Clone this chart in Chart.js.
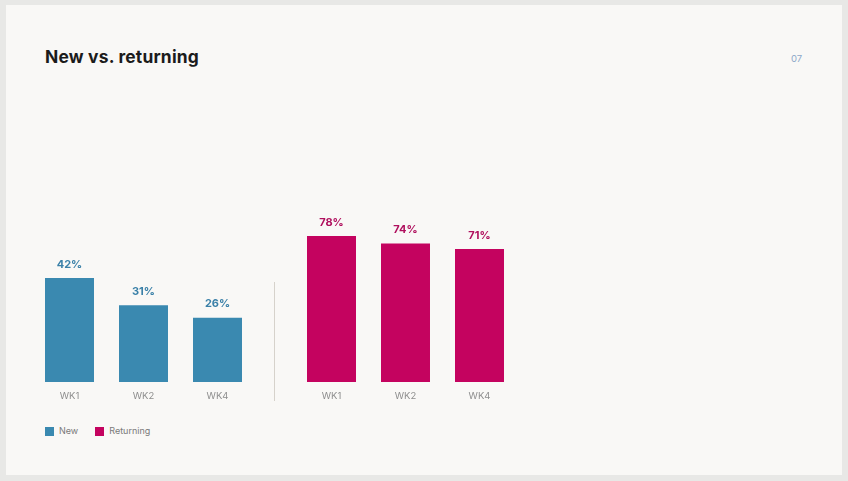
<!DOCTYPE html>
<html>
<head>
<meta charset="utf-8">
<script src="https://cdn.jsdelivr.net/npm/chart.js@4.4.1/dist/chart.umd.min.js"></script>
<style>
  html,body{margin:0;padding:0;background:#e8e8e6;width:848px;height:481px;overflow:hidden;font-family:Inter,"Noto Sans",sans-serif;}
  #card{position:absolute;left:6px;top:5px;width:836px;height:470px;background:#f9f8f6;}
  #title{position:absolute;left:45px;top:46px;font-size:17.4px;font-weight:700;color:#1b1b1b;letter-spacing:0.2px;line-height:22px;margin:0;}
  #page{position:absolute;left:791px;top:53px;font-size:9.5px;color:#8ea8c9;line-height:12px;}
  .wrap{position:absolute;top:150px;height:270px;}
  #sep{position:absolute;left:274px;top:282px;width:1px;height:119px;background:#d6d2cb;}
  #legend{position:absolute;left:45px;top:425px;font-size:9px;color:#7a7a7a;display:flex;align-items:center;line-height:12px;}
  .sw{display:inline-block;width:9px;height:9px;margin-right:5px;}
  .item{display:flex;align-items:center;margin-right:17px;}
</style>
</head>
<body>
<div id="card"></div>
<div id="title">New vs. returning</div>
<div id="page">07</div>
<div class="wrap" style="left:0;width:280px;"><canvas id="cNew"></canvas></div>
<div class="wrap" style="left:262px;width:280px;"><canvas id="cRet"></canvas></div>
<div id="sep"></div>
<div id="legend">
  <div class="item"><span class="sw" style="background:#3a89b0"></span>New</div>
  <div class="item"><span class="sw" style="background:#c4035f"></span>Returning</div>
</div>
<script>
const categories = ['WK1', 'WK2', 'WK4'];
const newValues = [42, 31, 26];
const returningValues = [78, 74, 71];
const seriesNames = ['New', 'Returning'];

const valueLabels = {
  id: 'valueLabels',
  afterDatasetsDraw(chart) {
    const ctx = chart.ctx;
    chart.data.datasets.forEach((ds, i) => {
      chart.getDatasetMeta(i).data.forEach((bar, j) => {
        ctx.save();
        ctx.font = '700 11px Inter, "Noto Sans", sans-serif';
        ctx.fillStyle = ds.labelColor;
        ctx.textAlign = 'center';
        ctx.textBaseline = 'middle';
        ctx.fillText(ds.data[j] + '%', bar.x, bar.y - 13.5);
        ctx.restore();
      });
    });
  }
};

function makeChart(id, name, values, color, labelColor, yMax, padLeft, padRight) {
  return new Chart(document.getElementById(id), {
    type: 'bar',
    data: {
      labels: categories,
      datasets: [{
        label: name,
        data: values,
        backgroundColor: color,
        labelColor: labelColor,
        borderWidth: 0,
        barPercentage: 0.662,
        categoryPercentage: 1.0
      }]
    },
    options: {
      responsive: true,
      maintainAspectRatio: false,
      animation: false,
      layout: { padding: { left: padLeft, right: padRight, top: 32, bottom: 8 } },
      plugins: { legend: { display: false }, tooltip: { enabled: false } },
      scales: {
        x: {
          grid: { display: false, drawTicks: false },
          border: { display: false },
          ticks: { color: '#8e8e8e', font: { size: 9.5, family: 'Inter, "Noto Sans", sans-serif' }, padding: 8, maxRotation: 0 },
          afterFit(scale) { scale.height = 30; }
        },
        y: { display: false, min: 0, max: yMax }
      }
    },
    plugins: [valueLabels]
  });
}

makeChart('cNew', seriesNames[0], newValues, '#3a89b0', '#3a80a8', 80.8, 32.5, 25.5);
makeChart('cRet', seriesNames[1], returningValues, '#c4035f', '#b0105e', 106.8, 32.5, 25.5);
</script>
</body>
</html>
